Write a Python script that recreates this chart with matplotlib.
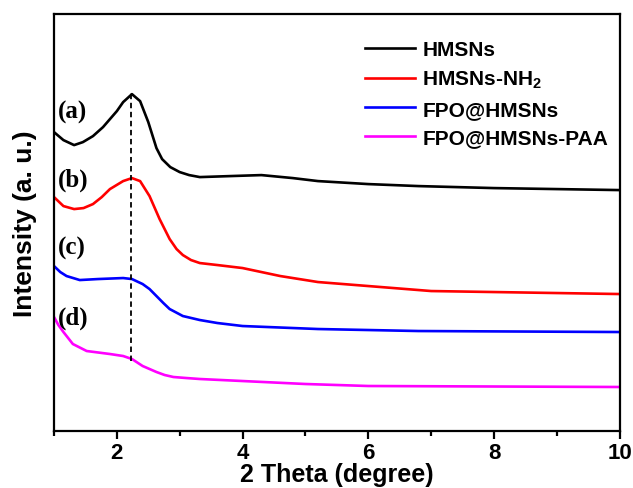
import numpy as np
import matplotlib.pyplot as plt

plt.rcParams['font.family'] = ['Liberation Sans', 'DejaVu Sans']
plt.rcParams['font.weight'] = 'bold'
plt.rcParams['mathtext.fontset'] = 'custom'
plt.rcParams['mathtext.bf'] = 'Liberation Sans:bold'

# (intensity in arbitrary units)
x_a = [1.0, 1.15, 1.32, 1.46, 1.62, 1.78, 2.0, 2.1, 2.24, 2.37, 2.5, 2.63, 2.72, 2.85, 3.0, 3.15, 3.32, 3.8, 4.3, 4.8, 5.2, 6.0, 6.8, 8.0, 9.0, 10.0]
y_a = [299, 291, 286, 289, 295, 304, 320, 329, 337, 330, 309, 283, 272, 264, 259, 256, 254, 255, 256, 253, 250, 247, 245, 243, 242, 241]

x_b = [1.0, 1.15, 1.32, 1.47, 1.62, 1.76, 1.89, 2.1, 2.24, 2.37, 2.52, 2.68, 2.84, 2.95, 3.05, 3.18, 3.32, 3.6, 4.0, 4.6, 5.2, 6.0, 7.0, 8.0, 9.0, 10.0]
y_b = [234, 225, 222, 223, 227, 234, 242, 250, 253, 250, 235, 212, 192, 182, 176, 171, 168, 166, 163, 155, 149, 145, 140, 139, 138, 137]

x_c = [1.0, 1.1, 1.2, 1.41, 1.7, 2.1, 2.24, 2.41, 2.52, 2.63, 2.74, 2.84, 3.05, 3.32, 3.6, 4.0, 5.2, 6.8, 10.0]
y_c = [165, 159, 155, 151, 152, 153, 152, 147, 142, 135, 128, 122, 115, 111, 108, 105, 102, 100, 99]

x_d = [1.0, 1.07, 1.15, 1.3, 1.52, 1.89, 2.1, 2.24, 2.41, 2.52, 2.63, 2.76, 2.9, 3.1, 3.32, 5.0, 6.0, 8.0, 10.0]
y_d = [114, 106, 99, 87, 80, 77, 75, 72, 65, 62, 59, 56, 54, 53, 52, 47, 45, 44.5, 44]

names = ['HMSNs', r'HMSNs-NH$_\mathbf{2}$', 'FPO@HMSNs', 'FPO@HMSNs-PAA']
colors = ['black', 'red', 'blue', 'magenta']
tags = ['(a)', '(b)', '(c)', '(d)']
tag_y = [320, 252, 184, 114]

peak_x = 2.22
peak_y = [70, 338]

fig = plt.figure(figsize=(6.33, 4.89), dpi=100)
ax = fig.add_axes([0.0853, 0.1166, 0.8937, 0.8524])

for xs, ys, c, n in zip([x_a, x_b, x_c, x_d], [y_a, y_b, y_c, y_d], colors, names):
    ax.plot(xs, ys, color=c, lw=1.9, label=n, solid_joinstyle='round')

ax.plot([peak_x, peak_x], peak_y, color='black', lw=1.3, ls=(0, (3, 2)))

for t, ty in zip(tags, tag_y):
    ax.text(1.06, ty, t, family=['Liberation Serif'], fontweight='bold', fontsize=18,
            va='center', ha='left')

ax.set_xlim(1, 10)
ax.set_ylim(0, 417)
ax.set_xticks([2, 4, 6, 8, 10])
ax.set_xticks([1, 3, 5, 7, 9], minor=True)
ax.set_yticks([])
ax.tick_params(axis='x', which='major', direction='out', length=6, width=1.6, labelsize=16, pad=2)
ax.tick_params(axis='x', which='minor', direction='out', length=3.5, width=1.6)
for s in ax.spines.values():
    s.set_linewidth(1.6)

ax.set_xlabel('2 Theta (degree)', fontsize=18, fontweight='bold', labelpad=-1)
ax.set_ylabel('Intensity (a. u.)', fontsize=19, fontweight='bold', labelpad=12)

ax.legend(loc='upper left', bbox_to_anchor=(0.55, 0.937), frameon=False, fontsize=15,
          handlelength=2.4, handletextpad=0.35, labelspacing=0.45, borderpad=0, borderaxespad=0)

fig.savefig('out.png', dpi=100)
